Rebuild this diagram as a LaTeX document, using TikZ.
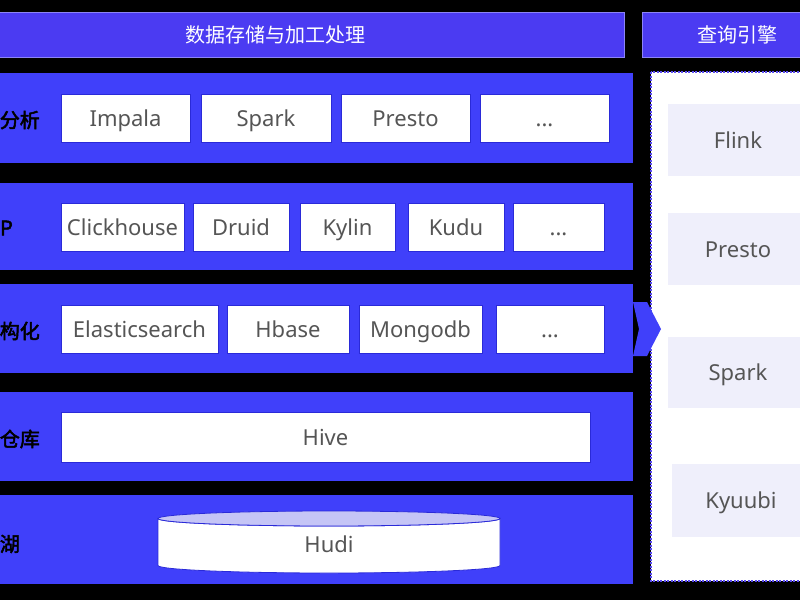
\documentclass[tikz,border=0pt]{standalone}
\usepackage{fontspec}
\setmainfont{Noto Sans}
\newfontfamily\cjk{Noto Sans CJK SC}
\newfontfamily\cjkb[FakeBold=2.5]{Noto Sans CJK SC}
\definecolor{headblue}{HTML}{4B3BF2}
\definecolor{headline}{HTML}{8C84F7}
\definecolor{bandblue}{HTML}{4040FA}
\definecolor{boxline}{HTML}{2A2AD8}
\definecolor{txtgray}{HTML}{555555}
\definecolor{engfill}{HTML}{EFEFFB}
\definecolor{dashblue}{HTML}{5B4DF0}
\definecolor{lidfill}{HTML}{C5C5F6}
\begin{document}
\begin{tikzpicture}[x=1pt, y=-1pt,
    head/.style={rectangle, fill=headblue, draw=headline, line width=1pt, text=white, minimum height=45pt, inner sep=0pt, font=\cjk\fontsize{20}{24}\selectfont},
    label/.style={text=txtgray, inner sep=0pt, text height=16pt, text depth=0pt, font=\fontsize{22}{26}\selectfont},
    box/.style={label, rectangle, fill=white, draw=boxline, line width=0.8pt, minimum height=48pt},
    engine/.style={label, rectangle, fill=engfill, minimum width=140pt, minimum height=72pt},
    side/.style={anchor=east, inner sep=0pt, text=black, font=\cjkb\fontsize{20}{24}\selectfont}]
        \useasboundingbox (0,0) rectangle (800,600);
        \fill[black] (0,0) rectangle (800,600);

        % headers
        \node[head, minimum width=698pt] (hstore) at (275,34.5) {数据存储与加工处理};
        \node[head, minimum width=190pt] (hquery) at (737,34.5) {查询引擎};

        % layers
        \fill[bandblue] (-74,73) rectangle (633,163);
        \fill[bandblue] (-74,183) rectangle (633,270);
        \fill[bandblue] (-74,284) rectangle (633,373);
        \fill[bandblue] (-74,392) rectangle (633,481);
        \fill[bandblue] (-74,495) rectangle (633,584);

        \node[side] (s1) at (40,120) {分析};
        \node[side] (s2) at (13,228) {P};
        \node[side] (s3) at (40,331) {构化};
        \node[side] (s4) at (40,439) {仓库};
        \node[side] (s5) at (20,544) {湖};

        \node[box, minimum width=129pt] (impala) at (125.5,118) {Impala};
        \node[box, minimum width=130pt] (spark1) at (266,118) {Spark};
        \node[box, minimum width=129pt] (presto1) at (405.5,118) {Presto};
        \node[box, minimum width=129pt] (more1) at (544.5,118) {...};

        \node[box, minimum width=123pt] (click) at (122.5,227) {Clickhouse};
        \node[box, minimum width=96pt] (druid) at (241,227) {Druid};
        \node[box, minimum width=95pt] (kylin) at (347.5,227) {Kylin};
        \node[box, minimum width=96pt] (kudu) at (456,227) {Kudu};
        \node[box, minimum width=91pt] (more2) at (558.5,227) {...};

        \node[box, minimum width=157pt] (es) at (139.5,329) {Elasticsearch};
        \node[box, minimum width=122pt] (hbase) at (288,329) {Hbase};
        \node[box, minimum width=123pt] (mongo) at (420.5,329) {Mongodb};
        \node[box, minimum width=108pt] (more3) at (550,329) {...};

        \node[box, minimum width=529pt, minimum height=50pt] (hive) at (325.5,437) {Hive};

        % lake
        \filldraw[fill=white, draw=boxline, line width=0.8pt] (158,518.5) -- (158,565.5)
            arc[start angle=180, end angle=0, x radius=171, y radius=7.5] -- (500,518.5)
            arc[start angle=0, end angle=180, x radius=171, y radius=7.5] -- cycle;
        \filldraw[fill=lidfill, draw=boxline, line width=0.8pt] (329,518.5) ellipse [x radius=171, y radius=7.5];
        \node[label] (hudi) at (329,544) {Hudi};

        % engines
        \draw[dashblue, line width=1.5pt, dash pattern=on 2pt off 1.5pt, fill=white] (651,72) rectangle (830,581);
        \node[engine] (flink) at (738,140) {Flink};
        \node[engine] (presto2) at (738,249) {Presto};
        \node[engine, minimum height=71pt] (spark2) at (738,372.5) {Spark};
        \node[engine, minimum width=138pt, minimum height=73pt] (kyuubi) at (741,500.5) {Kyuubi};

        \fill[bandblue] (633,302) -- (647,302) -- (661,329) -- (647,356) -- (633,356) -- (639,329) -- cycle;
      \end{tikzpicture}
\end{document}
